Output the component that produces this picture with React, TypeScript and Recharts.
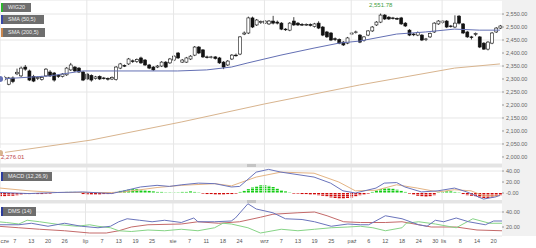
import React from "react";
import {
  ComposedChart,
  Bar,
  Line,
  XAxis,
  YAxis,
  CartesianGrid,
  ReferenceLine,
  Cell,
} from "recharts";

// daily candles, index 0 = first session in June
const OPEN = [
  2296, 2298, 2280, 2304, 2320, 2312, 2346, 2331, 2310, 2302, 2298, 2312, 2327, 2323, 2314, 2310, 2316, 2335, 2346, 2342,
  2327, 2319, 2314, 2302, 2310, 2304, 2302, 2300, 2298, 2342, 2352, 2358, 2370, 2367, 2381, 2373, 2354, 2346, 2346, 2350,
  2365, 2362, 2373, 2400, 2365, 2365, 2377, 2392, 2423, 2412, 2385, 2383, 2385, 2381, 2365, 2354, 2377, 2392, 2396, 2473,
  2477, 2535, 2508, 2517, 2515, 2512, 2523, 2519, 2515, 2492, 2488, 2523, 2515, 2510, 2508, 2510, 2502, 2515, 2500, 2481,
  2477, 2455, 2452, 2442, 2438, 2473, 2479, 2469, 2448, 2469, 2485, 2508, 2519, 2546, 2538, 2535, 2533, 2535, 2515, 2488,
  2473, 2469, 2469, 2452, 2462, 2481, 2512, 2517, 2523, 2504, 2500, 2542, 2512, 2481, 2462, 2472, 2462, 2438, 2415, 2438,
  2481, 2496,
];
const HIGH = [
  2310, 2312, 2308, 2310, 2340, 2348, 2354, 2336, 2316, 2310, 2312, 2342, 2334, 2327, 2318, 2323, 2346, 2362, 2350, 2346,
  2331, 2323, 2318, 2312, 2314, 2308, 2306, 2310, 2350, 2362, 2356, 2381, 2375, 2379, 2386, 2377, 2358, 2350, 2354, 2369,
  2369, 2381, 2392, 2404, 2377, 2385, 2392, 2427, 2427, 2415, 2390, 2389, 2388, 2385, 2369, 2373, 2396, 2398, 2465, 2483,
  2540, 2540, 2531, 2525, 2527, 2527, 2543, 2525, 2519, 2496, 2519, 2538, 2519, 2515, 2514, 2514, 2516, 2522, 2504, 2485,
  2481, 2460, 2456, 2446, 2462, 2481, 2486, 2473, 2465, 2488, 2504, 2523, 2551.78, 2550, 2542, 2539, 2537, 2539, 2519, 2492,
  2477, 2483, 2473, 2458, 2479, 2519, 2527, 2527, 2527, 2508, 2545, 2546, 2515, 2485, 2466, 2479, 2465, 2442, 2446, 2481,
  2500, 2508,
];
const LOW = [
  2290, 2292, 2276.01, 2284, 2315, 2308, 2332, 2292, 2288, 2296, 2294, 2308, 2308, 2290, 2304, 2306, 2312, 2331, 2327, 2323,
  2292, 2296, 2290, 2298, 2296, 2298, 2294, 2296, 2294, 2338, 2346, 2354, 2362, 2362, 2358, 2350, 2338, 2331, 2342, 2346,
  2342, 2358, 2369, 2377, 2362, 2362, 2373, 2388, 2396, 2381, 2379, 2379, 2375, 2358, 2338, 2350, 2373, 2386, 2392, 2469,
  2473, 2496, 2504, 2512, 2512, 2508, 2510, 2510, 2488, 2485, 2484, 2504, 2504, 2504, 2504, 2502, 2498, 2492, 2465, 2458,
  2446, 2446, 2434, 2427, 2434, 2469, 2475, 2438, 2444, 2465, 2481, 2504, 2515, 2527, 2527, 2529, 2527, 2508, 2500, 2465,
  2465, 2465, 2446, 2446, 2458, 2477, 2508, 2512, 2496, 2498, 2496, 2510, 2473, 2458, 2452, 2465, 2419, 2412, 2410, 2434,
  2477, 2492,
];
const CLOSE = [
  2304, 2306, 2304, 2290, 2326, 2342, 2338, 2296, 2292, 2306, 2306, 2338, 2312, 2296, 2310, 2319, 2342, 2354, 2331, 2327,
  2296, 2300, 2296, 2308, 2300, 2302, 2300, 2306, 2346, 2358, 2350, 2377, 2367, 2375, 2362, 2354, 2342, 2335, 2350, 2365,
  2346, 2377, 2388, 2381, 2373, 2381, 2388, 2423, 2400, 2385, 2383, 2385, 2379, 2362, 2346, 2369, 2392, 2390, 2462, 2477,
  2535, 2500, 2527, 2521, 2523, 2523, 2515, 2515, 2492, 2490, 2515, 2508, 2508, 2508, 2510, 2506, 2512, 2496, 2469, 2462,
  2450, 2452, 2438, 2431, 2458, 2477, 2481, 2442, 2462, 2485, 2500, 2519, 2546, 2531, 2531, 2533, 2531, 2512, 2504, 2469,
  2470, 2479, 2450, 2454, 2475, 2515, 2523, 2523, 2500, 2502, 2515, 2515, 2477, 2462, 2460, 2475, 2423, 2415, 2442, 2477,
  2496, 2504,
];

// moving averages read at sample sessions: [index, value]
const SMA50 = [
  [0, 2300], [12, 2312], [20, 2331], [30, 2331], [43, 2331], [50, 2335], [56, 2346], [60, 2362], [68, 2392],
  [76, 2419], [82, 2438], [87, 2446], [96, 2473], [103, 2481], [110, 2492], [116, 2488], [121, 2488],
];
const SMA200 = [
  [0, 2015], [22, 2065], [44, 2135], [64, 2204], [87, 2277], [98, 2308], [110, 2342], [121, 2358],
];

// MACD (12,26,9)
const MACD_LINE = [
  [0, 1], [7, -1], [14, 1], [20, 2], [27, -1], [30, 4], [34, 11], [38, 14], [41, 12], [44, 15], [48, 18], [52, 17],
  [56, 11], [58, 12], [62, 38], [65, 43], [68, 38], [76, 29], [80, 18], [83, 4], [86, 0], [91, 9], [93, 18], [96, 19],
  [98, 11], [102, 2], [106, 4], [110, 9], [113, 2], [117, -11], [120, -7], [121, -4],
];
const SIGNAL_LINE = [
  [0, 9], [7, 4], [14, 1], [20, 1], [27, 1], [30, 2], [34, 6], [38, 10], [41, 12], [44, 14], [52, 17], [56, 13],
  [62, 29], [68, 38], [76, 36], [82, 20], [86, 4], [91, 5], [96, 15], [101, 9], [106, 2], [110, 6], [114, 4],
  [117, -5], [121, -5],
];
const HIST = [
  -6, -6, -5, -5, -4, -3, -2, -2,
  -1, -2, -2, -1, -1, 0.5, 0.5,
  1, 2, 2, 2, 1,
  -2, -3, -3, -3, -3, -2, -2, -1,
  2, 4, 5, 6, 7, 7, 6, 5, 4, 3,
  2, 2, 1, 1, 1, 1,
  2, 2, 3, 2, 1,
  -1, -2, -2, -3, -3, -3, -2, -2, -1,
  2, 4, 7, 10, 12, 14, 14, 13, 11, 8, 5, 3, 1,
  -1, -1, -2, -2, -3, -3, -4, -5, -6, -8, -9, -10, -10, -9, -8, -6, -4, -3, -1,
  2, 5, 7, 9, 9, 8, 6, 4, 2,
  -1, -3, -5, -6, -7, -6, -4,
  1, 2, 3, 3, 2, 1,
  -2, -4, -5, -6, -8, -9, -9, -8, -6, -4,
];

// DMS (14)
const PLUS_DI = [
  [0, 23], [5, 23], [8, 25], [12, 21], [16, 25], [20, 21], [24, 19], [27, 21], [29, 27], [31, 31], [34, 29], [37, 27],
  [40, 29], [44, 26], [47, 32], [48, 27], [52, 27], [56, 28], [57, 32], [60, 51], [62, 44], [66, 39], [69, 31],
  [73, 30], [76, 27], [80, 21], [84, 24], [87, 23], [89, 23], [93, 35], [97, 31], [101, 23], [103, 21], [105, 29],
  [107, 27], [110, 32], [113, 27], [117, 23], [119, 28], [121, 28],
];
const MINUS_DI = [
  [0, 27], [2, 26], [5, 24], [7, 29], [10, 27], [15, 23], [19, 21], [22, 23], [24, 21], [27, 19], [29, 15], [32, 14],
  [36, 16], [40, 15], [44, 17], [48, 15], [52, 19], [54, 25], [56, 24], [60, 19], [63, 12], [68, 17], [72, 15],
  [76, 17], [80, 19], [84, 20], [87, 21], [90, 19], [93, 15], [97, 19], [98, 25], [101, 27], [105, 24], [110, 19],
  [114, 31], [118, 25], [121, 25],
];
const ADX = [
  [0, 21], [5, 19], [10, 17], [16, 15], [22, 12], [26, 12], [29, 15], [32, 20], [36, 23], [44, 24], [48, 27],
  [53, 25], [58, 27], [63, 33], [66, 37], [72, 39], [76, 40], [79, 35], [83, 27], [87, 26], [93, 26], [97, 27],
  [101, 23], [104, 20], [110, 20], [115, 16], [121, 15],
];

const MONTH_STARTS = [0, 21, 42, 64, 85, 107];
const X_TICKS = [0, 4, 8, 12, 16, 21, 25, 29, 33, 37, 42, 46, 50, 54, 58, 64, 68, 72, 76, 80, 85, 89, 93, 97, 101, 105, 107, 111, 115, 119];
const X_LABELS = ["cze", "7", "13", "20", "26", "lip", "7", "13", "19", "25", "sie", "7", "11", "18", "24", "wrz", "7", "13", "19", "25", "paź", "6", "12", "18", "24", "30", "lis", "8", "14", "20"];
const PRICE_TICKS = [2000, 2050, 2100, 2150, 2200, 2250, 2300, 2350, 2400, 2450, 2500, 2550];

const pick = (pts: number[][], i: number) => {
  const p = pts.find((q) => q[0] === i);
  return p ? p[1] : null;
};

const rows = CLOSE.map((c, i) => ({
  i,
  o: OPEN[i],
  h: HIGH[i],
  l: LOW[i],
  c,
  sma50: pick(SMA50, i),
  sma200: pick(SMA200, i),
  macd: pick(MACD_LINE, i),
  signal: pick(SIGNAL_LINE, i),
  hist: HIST[i],
  plus: pick(PLUS_DI, i),
  minus: pick(MINUS_DI, i),
  adx: pick(ADX, i),
}));

const FONT = "'Liberation Sans', Arial, sans-serif";
const GRID = "#e6e6e6";
const MARGIN = { top: 0, right: 1, left: -2, bottom: 0 };
const tickStyle = { fontSize: 5.5, fill: "#666", fontFamily: FONT };

function Candle(props: any) {
  const { x, y, width, height, payload } = props;
  if (x == null || y == null) return null;
  const { o, h, l, c } = payload;
  const span = h - l || 1;
  const py = (v: number) => y + ((h - v) / span) * height;
  const cx = x + width / 2;
  const top = py(Math.max(o, c));
  const bot = py(Math.min(o, c));
  const up = c >= o;
  return (
    <g>
      <line x1={cx} x2={cx} y1={y} y2={y + height} stroke="#111" strokeWidth={0.8} />
      <rect
        x={x}
        y={top}
        width={width}
        height={Math.max(bot - top, 0.7)}
        fill={up ? "#fff" : "#111"}
        stroke="#111"
        strokeWidth={0.6}
      />
    </g>
  );
}

function DateTick(props: any) {
  const { x, y, payload } = props;
  const label = X_LABELS[X_TICKS.indexOf(payload.value)] ?? "";
  const first = payload.value === 0;
  return (
    <text
      x={first ? 0.5 : x}
      y={y}
      dy="0.71em"
      textAnchor={first ? "start" : "middle"}
      fontSize={5.5}
      fill="#555"
      fontFamily={FONT}
    >
      {label}
    </text>
  );
}

function Tag({ label, color, top, width }: { label: string; color: string; top: number; width: number }) {
  return (
    <div
      style={{
        position: "absolute",
        left: 1,
        top,
        width,
        height: 9,
        background: "rgba(90,90,90,0.88)",
        borderLeft: `2px solid ${color}`,
        boxSizing: "border-box",
        color: "#eee",
        fontSize: 5.5,
        lineHeight: "9px",
        paddingLeft: 5,
        whiteSpace: "nowrap",
      }}
    >
      {label}
    </div>
  );
}

function Divider({ top }: { top: number }) {
  return (
    <div style={{ position: "absolute", left: 0, top, width: 502, height: 3, background: "#e4e4e4" }}>
      <div style={{ position: "absolute", left: 247, top: 0, width: 9, height: 3, background: "#c4c4c4" }} />
    </div>
  );
}

const monthLines = MONTH_STARTS.map((m) => (
  <ReferenceLine key={m} x={m} stroke={GRID} strokeWidth={1} />
));

export default function App() {
  return (
    <div
      style={{
        position: "absolute",
        left: 0,
        top: 0,
        width: 536,
        height: 248,
        background: "#fff",
        fontFamily: FONT,
        overflow: "hidden",
      }}
    >
      <div style={{ position: "absolute", left: 502, top: 0, width: 34, height: 236, background: "#f1f1f1" }} />

      <div style={{ position: "absolute", left: 0, top: 0 }}>
        <ComposedChart width={536} height={164} data={rows} margin={MARGIN}>
          <CartesianGrid vertical={false} stroke={GRID} />
          {monthLines}
          <XAxis dataKey="i" type="category" hide />
          <YAxis
            orientation="right"
            width={33}
            domain={[1973, 2604]}
            ticks={PRICE_TICKS}
            allowDataOverflow
            axisLine={false}
            tickSize={2}
            tickMargin={2}
            tickLine={{ stroke: "#999" }}
            tick={tickStyle}
            tickFormatter={(v: number) =>
              v.toLocaleString("en-US", { minimumFractionDigits: 2, maximumFractionDigits: 2 })
            }
          />
          <Line dataKey="sma200" stroke="#d8b48e" strokeWidth={1} dot={false} connectNulls isAnimationActive={false} />
          <Line dataKey="sma50" stroke="#6470b4" strokeWidth={1} dot={false} connectNulls isAnimationActive={false} />
          <Bar dataKey={(d: any) => [d.l, d.h]} barSize={3} shape={Candle} isAnimationActive={false} />
        </ComposedChart>
      </div>

      <Divider top={164} />

      <div style={{ position: "absolute", left: 0, top: 167 }}>
        <ComposedChart width={536} height={34} data={rows} margin={MARGIN}>
          <defs>
            <pattern id="gDots" width="4" height="2" patternUnits="userSpaceOnUse">
              <rect width="4" height="1.5" fill="#14cc14" />
            </pattern>
            <pattern id="rDots" width="4" height="2" patternUnits="userSpaceOnUse">
              <rect width="4" height="1.5" fill="#d00a0a" />
            </pattern>
          </defs>
          <CartesianGrid vertical={false} stroke={GRID} />
          {monthLines}
          <XAxis dataKey="i" type="category" hide />
          <YAxis
            orientation="right"
            width={33}
            domain={[-14.5, 47.3]}
            ticks={[0, 20, 40]}
            allowDataOverflow
            axisLine={false}
            tickSize={2}
            tickMargin={2}
            tickLine={{ stroke: "#999" }}
            tick={tickStyle}
            tickFormatter={(v: number) => (v === 0 ? "-0.00" : v.toFixed(2))}
          />
          <Bar dataKey="hist" barSize={3} isAnimationActive={false}>
            {rows.map((r) => (
              <Cell key={r.i} fill={r.hist >= 0 ? "url(#gDots)" : "url(#rDots)"} />
            ))}
          </Bar>
          <Line dataKey="signal" stroke="#e4b484" strokeWidth={1} dot={false} connectNulls isAnimationActive={false} />
          <Line dataKey="macd" stroke="#6a74bc" strokeWidth={1} dot={false} connectNulls isAnimationActive={false} />
        </ComposedChart>
      </div>

      <Divider top={200} />

      <div style={{ position: "absolute", left: 0, top: 203 }}>
        <ComposedChart width={536} height={45} data={rows} margin={MARGIN}>
          <CartesianGrid vertical={false} stroke={GRID} />
          {monthLines}
          <XAxis
            dataKey="i"
            type="category"
            height={12}
            ticks={X_TICKS}
            interval={0}
            axisLine={false}
            tickLine={false}
            tickSize={0}
            tickMargin={3}
            tick={DateTick}
          />
          <YAxis
            orientation="right"
            width={33}
            domain={[8, 52]}
            ticks={[20, 40]}
            allowDataOverflow
            axisLine={false}
            tickSize={2}
            tickMargin={2}
            tickLine={{ stroke: "#999" }}
            tick={tickStyle}
            tickFormatter={(v: number) => v.toFixed(2)}
          />
          <Line dataKey="adx" stroke="#c46a6a" strokeWidth={1} dot={false} connectNulls isAnimationActive={false} />
          <Line dataKey="minus" stroke="#86d486" strokeWidth={1} dot={false} connectNulls isAnimationActive={false} />
          <Line dataKey="plus" stroke="#6a74bc" strokeWidth={1} dot={false} connectNulls isAnimationActive={false} />
        </ComposedChart>
      </div>

      <Tag label="WIG20" color="#2db52d" top={3} width={30} />
      <Tag label="SMA (50,5)" color="#3848a8" top={15} width={43} />
      <Tag label="SMA (200,5)" color="#c8864e" top={28} width={44} />
      <Tag label="MACD (12,26,9)" color="#2c3c9c" top={172} width={51} />
      <Tag label="DMS (14)" color="#2c3c9c" top={207} width={35} />

      <div style={{ position: "absolute", left: 369, top: 2, fontSize: 6, color: "#3fa03f" }}>2,551.78</div>
      <div style={{ position: "absolute", left: 1, top: 154, fontSize: 6, color: "#c04848" }}>2,276.01</div>
    </div>
  );
}
